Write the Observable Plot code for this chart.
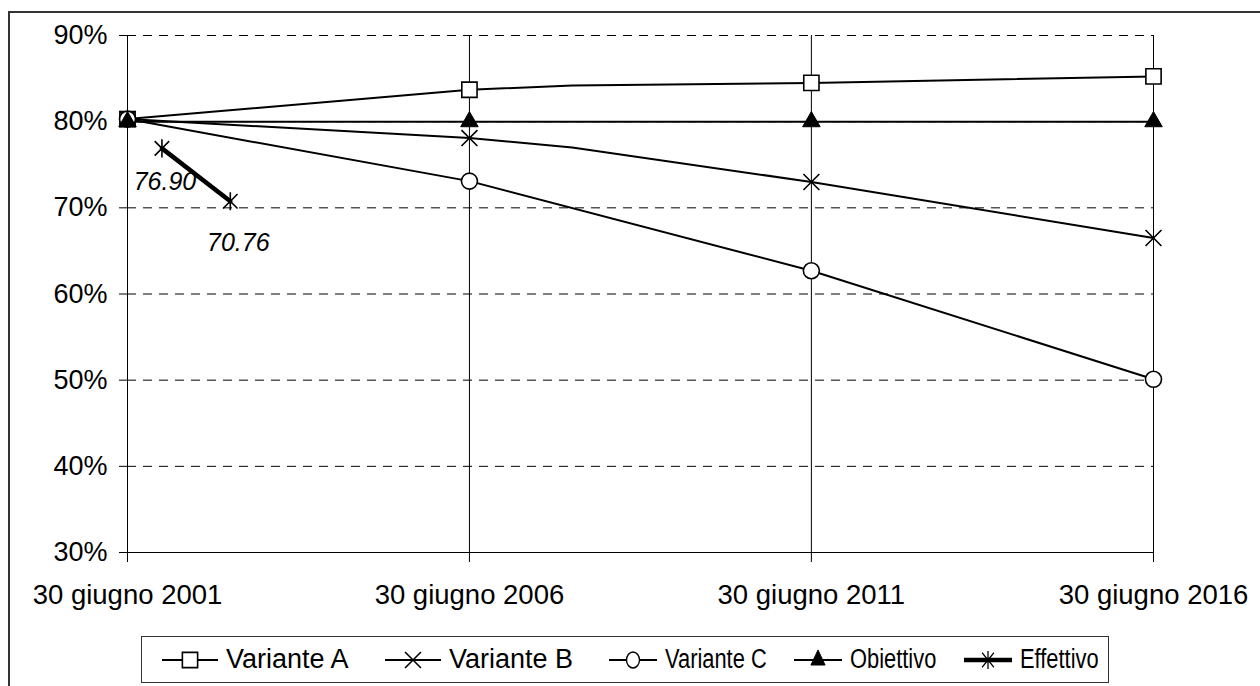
<!DOCTYPE html>
<html><head><meta charset="utf-8">
<script src="https://cdn.jsdelivr.net/npm/d3@7"></script>
<script src="https://cdn.jsdelivr.net/npm/@observablehq/plot@0.6"></script>
<style>
body{margin:0;background:#fff;font-family:"Liberation Sans",Arial,sans-serif;}
#wrap{position:relative;width:1260px;height:686px;overflow:hidden;background:#fff;}
#frame{position:absolute;left:8px;top:11px;width:1300px;height:700px;border-left:2px solid #333;border-top:2px solid #333;}
#chart{position:absolute;left:0;top:0;}
#legend{position:absolute;left:141px;top:636px;width:966px;height:45px;border:1px solid #333;background:#fff;}
.item{position:absolute;top:0;height:45px;display:flex;align-items:center;font-size:27px;color:#000;white-space:nowrap;}
.item svg{margin-right:8px;overflow:visible}
.item span{display:inline-block;transform-origin:left center;}
</style></head><body>
<div id="wrap"><div id="frame"></div><div id="chart"></div><div id="legend"></div></div>
<script>
const tickDates = ["2001-06-30","2006-06-30","2011-06-30","2016-06-30"];
const tickLabels = ["30 giugno 2001","30 giugno 2006","30 giugno 2011","30 giugno 2016"];
const yTicks = [30,40,50,60,70,80,90];
const seriesNames = ["Variante A","Variante B","Variante C","Obiettivo","Effettivo"];
// Variante A and B: one extra unmarked point (bend in the line)
const datesAB = ["2001-06-30","2006-06-30","2007-12-31","2011-06-30","2016-06-30"];
const varianteA = [80.3, 83.7, 84.2, 84.5, 85.25];
const varianteB = [80.3, 78.1, 77.0, 73.0, 66.5];
const varianteC = [80.3, 73.1, 62.7, 50.1];
const obiettivo = [80, 80, 80, 80];
const effettivoDates = ["2001-12-31","2002-12-31"];
const effettivo = [76.90, 70.76];
const effettivoLabels = ["76.90","70.76"];

const D = s => new Date(s + "T00:00:00Z");
const tickSet = new Set(tickDates);
const mk = (name, dates, vals) => dates.map((d, i) => ({series: name, date: D(d), value: vals[i], marked: tickSet.has(d), label: null}));
const rowsA = mk(seriesNames[0], datesAB, varianteA);
const rowsB = mk(seriesNames[1], datesAB, varianteB);
const rowsC = mk(seriesNames[2], tickDates, varianteC);
const rowsO = mk(seriesNames[3], tickDates, obiettivo);
const rowsE = effettivoDates.map((d, i) => ({series: seriesNames[4], date: D(d), value: effettivo[i], label: effettivoLabels[i]}));

const asterisk = {draw(ctx, size){ const r = Math.sqrt(size)/2; const a = r*0.8;
  ctx.moveTo(0,-r); ctx.lineTo(0,r); ctx.moveTo(-a,-a); ctx.lineTo(a,a); ctx.moveTo(-a,a); ctx.lineTo(a,-a);} };

const styles = [
  {rows: rowsA, symbol: "square", r: 8.6, fill: "white", sw: 1.6, lw: 2},
  {rows: rowsB, symbol: "times", r: 7.3, fill: "none", sw: 1.6, lw: 2},
  {rows: rowsC, symbol: "circle", r: 8, fill: "white", sw: 1.6, lw: 2},
  {rows: rowsO, symbol: "triangle", r: 6.5, fill: "black", sw: 1, lw: 2},
  {rows: rowsE, symbol: asterisk, r: 10.2, fill: "none", sw: 1.6, lw: 4.5}
];

const xTicks = tickDates.map(D);
const fmtX = d => tickLabels[xTicks.findIndex(t => +t === +d)];

const marks = [
  Plot.ruleY(yTicks.filter(v => v > 30), {stroke: "#000", strokeWidth: 1, strokeDasharray: "9,7"}),
  Plot.ruleX(xTicks, {stroke: "#000", strokeWidth: 1}),
  Plot.ruleY([30], {stroke: "#000", strokeWidth: 1}),
  Plot.axisY({ticks: yTicks, tickFormat: d => d + "%", tickSize: 8, tickPadding: 12, fontSize: 27, stroke: "#000", label: null}),
  Plot.axisX({ticks: xTicks, tickFormat: fmtX, tickSize: 10, tickPadding: 22, fontSize: 27.5, stroke: "#000", label: null})
];
for (const s of styles) {
  marks.push(Plot.line(s.rows, {x: "date", y: "value", stroke: "#000", strokeWidth: s.lw}));
}
for (const s of styles) {
  const pts = s.rows.filter(d => d.marked !== false);
  marks.push(Plot.dot(pts, {x: "date", y: "value", symbol: () => s.symbol, r: s.r, fill: s.fill, stroke: "#000", strokeWidth: s.sw}));
}
const labelStyle = {x: "date", y: "value", text: "label", fontSize: 25, fontStyle: "italic", fill: "#000"};
marks.push(Plot.text(rowsE.slice(0,1), {...labelStyle, dx: 3, dy: 34}));
marks.push(Plot.text(rowsE.slice(1,2), {...labelStyle, dx: 8, dy: 42}));

const chart = Plot.plot({
  width: 1260, height: 630,
  marginLeft: 127, marginRight: 107, marginTop: 35, marginBottom: 78,
  style: {fontFamily: '"Liberation Sans", Arial, sans-serif', background: "transparent", color: "#000"},
  x: {type: "utc", domain: [xTicks[0], xTicks[3]], label: null},
  y: {domain: [30, 90], label: null},
  symbol: {type: "identity"},
  marks
});
document.getElementById("chart").appendChild(chart);

// Legend
const legendLefts = [20, 243, 467, 652, 822];
const legendScale = [1, 1, 0.81, 0.81, 0.81];
const legend = document.getElementById("legend");
styles.forEach((s, i) => {
  const item = document.createElement("div");
  item.className = "item";
  item.style.left = legendLefts[i] + "px";
  const w = i < 2 ? 56 : 48;
  const size = Math.PI * s.r * s.r;
  let sym = typeof s.symbol === "string" ? {square: d3.symbolSquare, times: d3.symbolTimes, circle: d3.symbolCircle, triangle: d3.symbolTriangle}[s.symbol] : s.symbol;
  const path = d3.symbol(sym, size)();
  const sx = legendScale[i];
  item.innerHTML = `<svg width="${w}" height="20" viewBox="0 0 ${w} 20"><line x1="0" x2="${w}" y1="10" y2="10" stroke="#000" stroke-width="${s.lw}"/><path transform="translate(${w/2},10) scale(${sx},1)" d="${path}" fill="${s.fill}" stroke="#000" stroke-width="${s.sw}"/></svg><span style="transform:scaleX(${sx})">${seriesNames[i]}</span>`;
  legend.appendChild(item);
});
</script>
</body></html>
